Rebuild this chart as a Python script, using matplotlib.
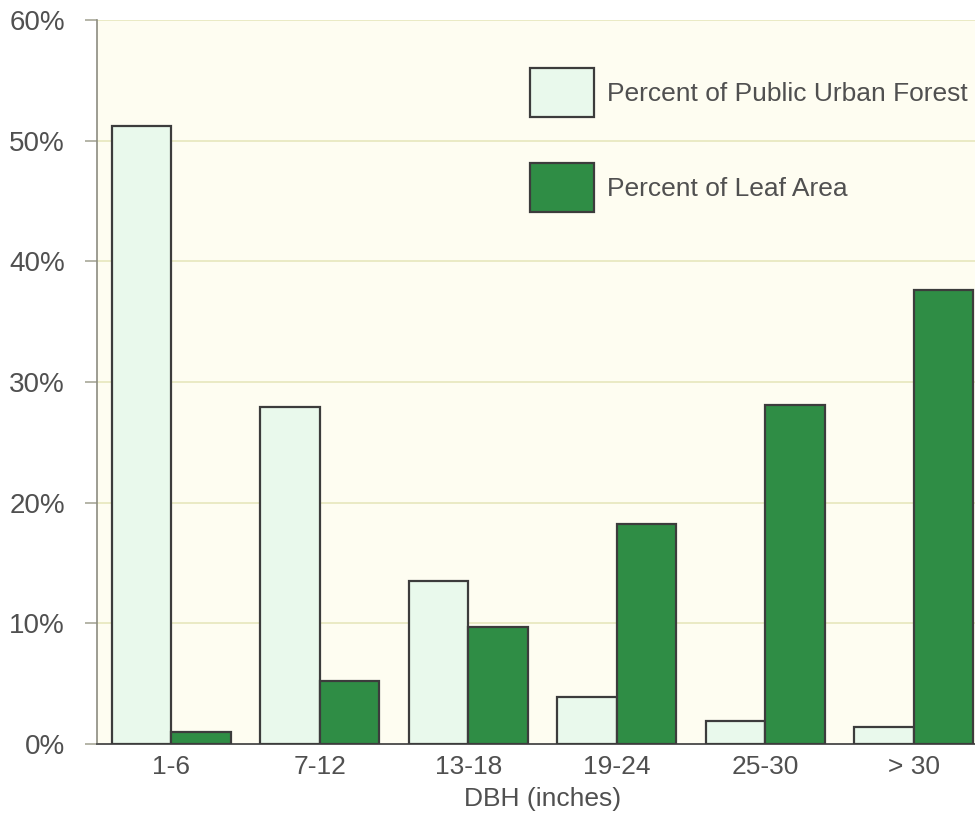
import matplotlib
matplotlib.use("Agg")
import matplotlib.pyplot as plt
import numpy as np

# DBH classes and the share of trees / leaf area in each
categories = ["1-6", "7-12", "13-18", "19-24", "25-30", "> 30"]
pct_public_forest = [51.2, 27.9, 13.5, 3.9, 1.9, 1.4]
pct_leaf_area = [1.0, 5.2, 9.7, 18.2, 28.1, 37.6]
y_ticks = [0, 10, 20, 30, 40, 50, 60]
y_tick_labels = ["0%", "10%", "20%", "30%", "40%", "50%", "60%"]

plt.rcParams["font.family"] = ["Liberation Sans", "DejaVu Sans"]

fig = plt.figure(figsize=(9.75, 8.14), dpi=100)
fig.patch.set_facecolor("white")
# axes run slightly past the right edge of the figure
ax = fig.add_axes([97 / 975, (814 - 744) / 814, 891 / 975, 724 / 814])
ax.set_facecolor("#fefdf1")

x = np.arange(len(categories))
w = 0.4
light = "#e9f9ec"
dark = "#2f8d45"
edge = "#3c3c3c"
text_color = "#505050"

ax.bar(x - w / 2, pct_public_forest, width=w, color=light, edgecolor=edge,
       linewidth=1.6, label="Percent of Public Urban Forest", zorder=3)
ax.bar(x + w / 2, pct_leaf_area, width=w, color=dark, edgecolor=edge,
       linewidth=1.6, label="Percent of Leaf Area", zorder=3)

ax.set_xlim(-0.5, len(categories) - 0.5)
ax.set_ylim(0, 60)
ax.set_yticks(y_ticks)
ax.set_yticklabels(y_tick_labels)
ax.set_xticks(x)
ax.set_xticklabels(categories)

ax.yaxis.grid(True, color="#e7e7bd", linewidth=1.2, zorder=0)
ax.set_axisbelow(True)

for side in ("top", "right"):
    ax.spines[side].set_visible(False)
ax.spines["left"].set_color("#8c8c80")
ax.spines["left"].set_linewidth(1.2)
ax.spines["bottom"].set_color("#555555")
ax.spines["bottom"].set_linewidth(1.4)

ax.tick_params(axis="y", length=9, width=1.2, color="#a8a898",
               labelsize=20, labelcolor=text_color, pad=14)
ax.tick_params(axis="x", length=0, labelsize=19, labelcolor=text_color, pad=8)

ax.set_xlabel("DBH (inches)", fontsize=19, color=text_color, labelpad=6)

ax.legend(loc="upper left", bbox_to_anchor=(433 / 891, (744 - 68) / 724),
          frameon=False, fontsize=19, labelcolor=text_color,
          handlelength=2.42, handleheight=2.48, handletextpad=0.5,
          labelspacing=1.75, borderpad=0, borderaxespad=0)

fig.savefig("out.png", dpi=100, facecolor="white")
